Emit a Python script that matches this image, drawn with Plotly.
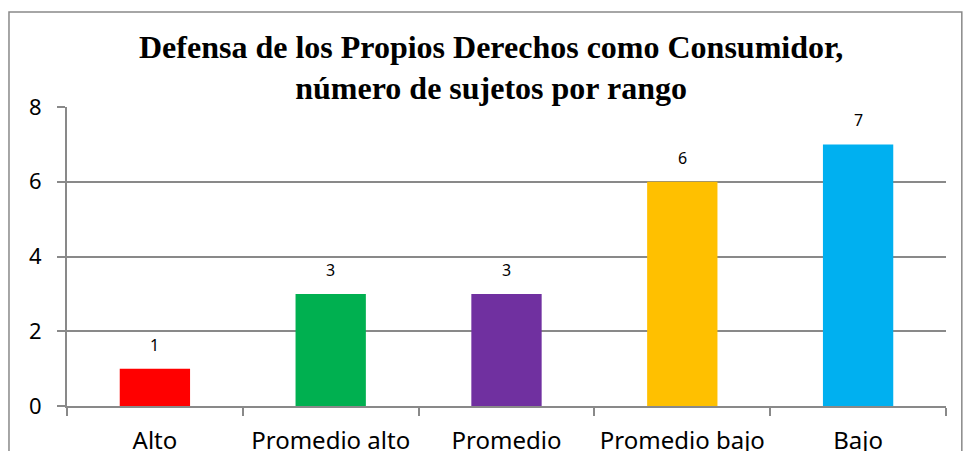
import plotly.graph_objects as go

# datos del gráfico
rangos = ["Alto", "Promedio alto", "Promedio", "Promedio bajo", "Bajo"]
sujetos = [1, 3, 3, 6, 7]
colores = ["#FF0000", "#00B050", "#7030A0", "#FFC000", "#00B0F0"]

titulo = "Defensa de los Propios Derechos como Consumidor,<br>número de sujetos por rango"
y_ticks = [0, 2, 4, 6, 8]

gris = "#898989"

fig = go.Figure(go.Bar(
    x=rangos,
    y=sujetos,
    marker=dict(color=colores, line=dict(width=0)),
    hoverinfo="skip",
))

# etiquetas de valor encima de cada barra
for r, v in zip(rangos, sujetos):
    fig.add_annotation(
        x=r, y=v, text=str(v), showarrow=False,
        yanchor="bottom", yshift=11,
        font=dict(family="Noto Sans", size=16, color="#000000"),
    )

# borde del área del gráfico
fig.add_shape(
    type="rect", xref="paper", yref="paper",
    x0=-0.066, x1=1.018, y0=-0.2, y1=1.318,
    line=dict(color=gris, width=1.5), fillcolor="rgba(0,0,0,0)",
    layer="below",
)

fig.update_layout(
    width=963,
    height=451,
    margin=dict(l=67, r=17, t=107, b=45, autoexpand=False),
    paper_bgcolor="white",
    plot_bgcolor="white",
    bargap=0.6,
    showlegend=False,
    title=dict(
        text=titulo,
        x=0.51, xanchor="center",
        y=0.872, yanchor="top",
        font=dict(family="Liberation Serif", size=32, color="#000000", weight="bold"),
    ),
    xaxis=dict(
        automargin=False,
        showline=True, linecolor=gris, linewidth=2,
        ticks="outside", tickson="boundaries", ticklen=8,
        tickcolor=gris, tickwidth=2,
        ticklabelstandoff=12,
        tickfont=dict(family="Noto Sans", size=24, color="#000000"),
        showgrid=False,
    ),
    yaxis=dict(
        automargin=False,
        range=[0, 8], tickvals=y_ticks,
        showline=True, linecolor=gris, linewidth=2,
        ticks="outside", ticklen=8, tickcolor=gris, tickwidth=2,
        ticklabelstandoff=11,
        showgrid=True, gridcolor=gris, gridwidth=2,
        zeroline=False,
        tickfont=dict(family="Noto Sans", size=22, color="#000000"),
    ),
)

# quitar el margen por defecto del body para que la figura ocupe la ventana
fig.write_html(
    "out.html",
    config={"displayModeBar": False},
    post_script="document.body.style.margin='0';",
)
